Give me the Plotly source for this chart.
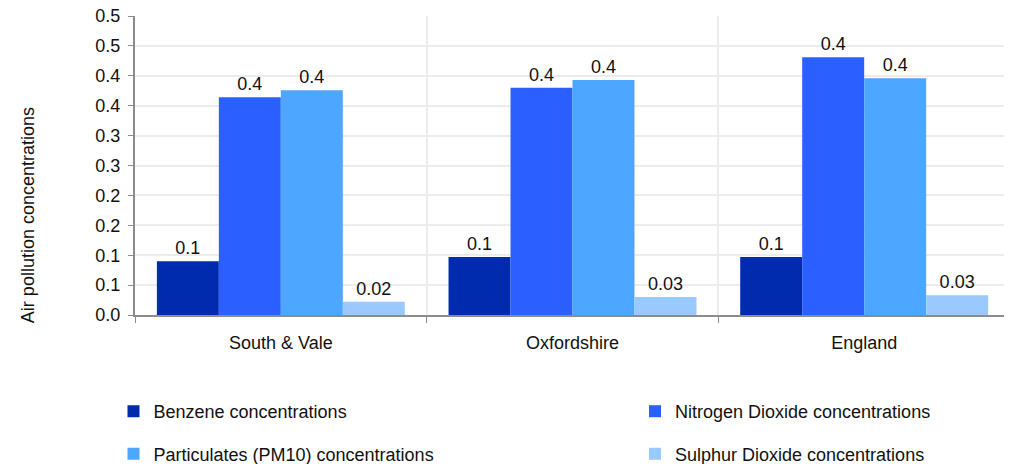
import plotly.graph_objects as go

categories = ["South & Vale", "Oxfordshire", "England"]
benzene = [0.090, 0.097, 0.097]
nitrogen_dioxide = [0.364, 0.380, 0.431]
particulates_pm10 = [0.376, 0.393, 0.396]
sulphur_dioxide = [0.022, 0.030, 0.033]

series_names = ["Benzene concentrations", "Nitrogen Dioxide concentrations",
                "Particulates (PM10) concentrations", "Sulphur Dioxide concentrations"]
series_values = [benzene, nitrogen_dioxide, particulates_pm10, sulphur_dioxide]
series_colors = ["#002BAE", "#2B5FFF", "#4DA6FF", "#99C9FF"]
series_formats = ["%{y:.1f}", "%{y:.1f}", "%{y:.1f}", "%{y:.2f}"]

y_tickvals = [0, 0.05, 0.1, 0.15, 0.2, 0.25, 0.3, 0.35, 0.4, 0.45, 0.5]
y_ticktext = ["0.0", "0.1", "0.1", "0.2", "0.2", "0.3", "0.3", "0.4", "0.4", "0.5", "0.5"]

FONT = "Liberation Sans, Arial, sans-serif"
FS = 18
W, H = 1012, 464

# legend slots (2x2 grid): symbol centre positions in figure pixels
legend_ids = ["legend", "legend2", "legend3", "legend4"]
legend_cx = [125.5, 647, 125.5, 647]
legend_cy = [403.5, 403.5, 446, 446]

fig = go.Figure()
for name, vals, col, fmt, lg in zip(series_names, series_values, series_colors,
                                    series_formats, legend_ids):
    fig.add_trace(go.Bar(
        x=categories, y=vals, name=name, marker_color=col, marker_line_width=0,
        texttemplate=fmt, textposition="outside", cliponaxis=False,
        textfont=dict(size=FS, color="#111111", family=FONT),
        legend=lg,
    ))

legends = {}
for lg, cx, cy in zip(legend_ids, legend_cx, legend_cy):
    legends[lg] = dict(orientation="h", xref="container", yref="container",
                       x=(cx - 20) / W, xanchor="left", y=(H - cy) / H, yanchor="middle",
                       font=dict(size=FS, family=FONT, color="#111111"),
                       bgcolor="rgba(0,0,0,0)", borderwidth=0)

fig.update_layout(
    width=W, height=H,
    margin=dict(l=127, r=10, t=8, b=157, autoexpand=False),
    paper_bgcolor="white", plot_bgcolor="white",
    barmode="group", bargap=0.15, bargroupgap=0,
    font=dict(family=FONT, size=FS, color="#111111"),
    showlegend=True,
    **legends,
)

fig.update_xaxes(
    type="category", tickson="boundaries", ticks="outside", ticklen=6,
    tickcolor="#8c8c8c", showline=True, linecolor="#8c8c8c", linewidth=2,
    showgrid=True, gridcolor="#ececec", gridwidth=2,
    tickfont=dict(size=FS, family=FONT, color="#111111"), ticklabelstandoff=10,
)
fig.update_yaxes(
    range=[0, 0.5], tickvals=y_tickvals, ticktext=y_ticktext,
    ticks="outside", ticklen=5, tickcolor="#8c8c8c",
    showline=True, linecolor="#8c8c8c", linewidth=2,
    showgrid=True, gridcolor="#ececec", gridwidth=2, zeroline=False,
    tickfont=dict(size=FS, family=FONT, color="#111111"), ticklabelstandoff=4,
    ticklabeloverflow="allow",
)

fig.add_annotation(
    text="Air pollution concentrations", xref="paper", yref="paper",
    x=0, xshift=-119, y=0.334, textangle=-90, showarrow=False,
    font=dict(size=FS, family=FONT, color="#111111"),
)

fig.write_html("out.html")
